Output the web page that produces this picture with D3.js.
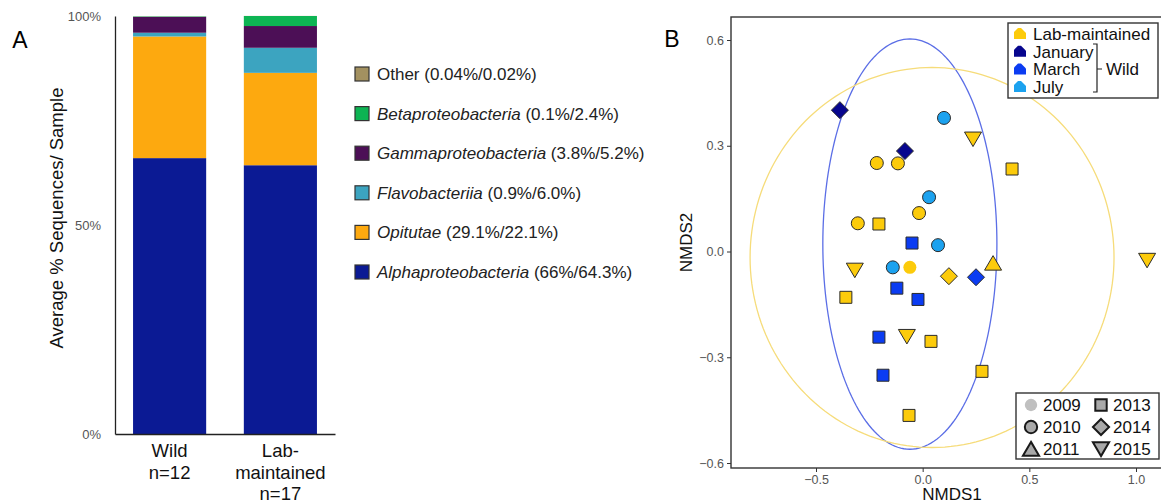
<!DOCTYPE html>
<html><head><meta charset="utf-8">
<script src="https://cdn.jsdelivr.net/npm/d3@7"></script>
<style>body{margin:0;background:#fff;}svg{display:block;font-family:"Liberation Sans",Arial,sans-serif;}</style>
</head><body>
<svg id="c" width="1161" height="504"></svg>
<script>
// ---------- Panel A data ----------
const groups = ["Wild", "Lab-maintained"];
const groupLabels = [["Wild", "n=12"], ["Lab-", "maintained", "n=17"]];
const taxa = ["Alphaproteobacteria", "Opitutae", "Flavobacteriia", "Gammaproteobacteria", "Betaproteobacteria", "Other"];
const wildPct = [66, 29.1, 0.9, 3.8, 0.1, 0.04];
const labPct = [64.3, 22.1, 6.0, 5.2, 2.4, 0.02];
const taxaLegend = ["(66%/64.3%)", "(29.1%/22.1%)", "(0.9%/6.0%)", "(3.8%/5.2%)", "(0.1%/2.4%)", "(0.04%/0.02%)"];
const taxaItalic = [true, true, true, true, true, false];
const taxaColors = ["#0b1a94", "#fda90f", "#3ca4c0", "#4c0f56", "#0db453", "#a39160"];
const yTicksA = [0, 50, 100];

// ---------- Panel B data ----------
const nmds1 = [-0.388, -0.083, 0.100, 0.236, -0.215, -0.116, 0.419, 0.030, -0.017, -0.304, -0.205, -0.050, 0.072, 0.330, -0.318, -0.140, -0.060, 0.123, 0.250, -0.121, -0.360, -0.022, -0.205, -0.074, 0.039, -0.186, 0.278, -0.064, 1.052];
const nmds2 = [0.401, 0.285, 0.379, 0.319, 0.251, 0.250, 0.234, 0.154, 0.109, 0.080, 0.078, 0.024, 0.018, -0.033, -0.053, -0.045, -0.045, -0.070, -0.073, -0.104, -0.130, -0.136, -0.243, -0.241, -0.255, -0.351, -0.340, -0.465, -0.025];
const source = ["January", "January", "July", "Lab-maintained", "Lab-maintained", "Lab-maintained", "Lab-maintained", "July", "Lab-maintained", "Lab-maintained", "Lab-maintained", "March", "July", "Lab-maintained", "Lab-maintained", "July", "Lab-maintained", "Lab-maintained", "March", "March", "Lab-maintained", "March", "March", "Lab-maintained", "Lab-maintained", "March", "Lab-maintained", "Lab-maintained", "Lab-maintained"];
const year = [2014, 2014, 2010, 2015, 2010, 2010, 2013, 2010, 2010, 2010, 2013, 2013, 2010, 2011, 2015, 2010, 2009, 2014, 2014, 2013, 2013, 2013, 2013, 2015, 2013, 2013, 2013, 2013, 2015];
const sourceNames = ["Lab-maintained", "January", "March", "July"];
const sourceColors = ["#fccb0b", "#07068e", "#0b3cf2", "#1ca2ef"];
const years = [2009, 2010, 2011, 2013, 2014, 2015];
const yearShapes = ["dot", "circle", "up", "square", "diamond", "down"];
const ellipseGroups = ["Wild", "Lab-maintained"];
const ellipseCx = [-0.060, 0.044];
const ellipseCy = [0.021, -0.017];
const ellipseRx = [0.408, 0.853];
const ellipseRy = [0.582, 0.539];
const ellipseColors = ["#5b6ee6", "#f6dc7a"];
const xTicksB = [-0.5, 0.0, 0.5, 1.0];
const yTicksB = [-0.6, -0.3, 0.0, 0.3, 0.6];

const svg = d3.select("#c");

// ================= Panel A =================
const gA = svg.append("g");
gA.append("text").attr("x", 20).attr("y", 40).attr("text-anchor", "middle").attr("dy", "0.35em")
  .attr("font-size", 23).text("A");

const yA = d3.scaleLinear().domain([0, 100]).range([434, 16]);
const xA = d3.scaleBand().domain(groups).range([115, 335]).paddingInner(0.34).paddingOuter(0.163);

const groupVals = [wildPct, labPct];
groups.forEach((g, gi) => {
  let cum = 0;
  taxa.forEach((t, ti) => {
    const v = groupVals[gi][ti];
    gA.append("rect")
      .attr("x", xA(g)).attr("width", xA.bandwidth())
      .attr("y", yA(cum + v)).attr("height", yA(cum) - yA(cum + v))
      .attr("fill", taxaColors[ti]);
    cum += v;
  });
});

// axes A
const axL = d3.axisLeft(yA).tickValues(yTicksA).tickSize(0).tickPadding(14).tickFormat(d => d + "%");
const gAxL = gA.append("g").attr("transform", "translate(115,0)").call(axL);
gAxL.select(".domain").attr("stroke", "#222").attr("stroke-width", 1.3);
gAxL.selectAll("text").attr("font-size", 13).attr("fill", "#555").attr("font-family", "Liberation Sans, Arial, sans-serif");
const axB = d3.axisBottom(xA).tickSize(0).tickFormat("");
const gAxB = gA.append("g").attr("transform", "translate(0,434)").call(axB);
gAxB.select(".domain").attr("stroke", "#222").attr("stroke-width", 1.3);

groups.forEach((g, gi) => {
  groupLabels[gi].forEach((line, li) => {
    gA.append("text").attr("x", xA(g) + xA.bandwidth() / 2).attr("y", 451 + li * 21.5)
      .attr("dy", "0.35em").attr("text-anchor", "middle").attr("font-size", 18.5).attr("fill", "#111").text(line);
  });
});

gA.append("text").attr("transform", "translate(57,218) rotate(-90)").attr("text-anchor", "middle")
  .attr("dy", "0.35em").attr("font-size", 18.5).attr("fill", "#111").text("Average % Sequences/ Sample");

// legend A (top = Other)
const legOrder = d3.range(taxa.length).reverse();
legOrder.forEach((ti, k) => {
  const cy = 74 + k * 39.6;
  gA.append("rect").attr("x", 355).attr("y", cy - 7).attr("width", 14).attr("height", 14)
    .attr("fill", taxaColors[ti]).attr("stroke", "#333").attr("stroke-width", 1.2);
  const t = gA.append("text").attr("x", 377).attr("y", cy).attr("dy", "0.35em").attr("font-size", 17).attr("fill", "#222");
  t.append("tspan").attr("font-style", taxaItalic[ti] ? "italic" : "normal").text(taxa[ti]);
  t.append("tspan").text(" " + taxaLegend[ti]);
});

// ================= Panel B =================
const gB = svg.append("g");
gB.append("text").attr("x", 672).attr("y", 39).attr("text-anchor", "middle").attr("dy", "0.35em")
  .attr("font-size", 23).text("B");

const xB = d3.scaleLinear().domain([-0.5, 1.0]).range([816, 1136]);
const yB = d3.scaleLinear().domain([-0.6, 0.6]).range([463, 40]);
const panel = { l: 731, t: 17, r: 1173, b: 468 };

// ellipses
ellipseGroups.forEach((g, i) => {
  const pts = d3.range(0, 361, 2).map(a => {
    const r = a * Math.PI / 180;
    return [xB(ellipseCx[i] + ellipseRx[i] * Math.cos(r)), yB(ellipseCy[i] + ellipseRy[i] * Math.sin(r))];
  });
  gB.append("path").attr("d", d3.line()(pts)).attr("fill", "none")
    .attr("stroke", ellipseColors[i]).attr("stroke-width", 1.3);
});

function shapePath(shape, s) {
  const p = d3.path();
  if (shape === "circle" || shape === "dot") {
    p.arc(0, 0, 6.5 * s, 0, 2 * Math.PI);
  } else if (shape === "square") {
    const h = 6 * s; p.rect(-h, -h, 2 * h, 2 * h);
  } else if (shape === "diamond") {
    const h = 8.5 * s; p.moveTo(0, -h); p.lineTo(h, 0); p.lineTo(0, h); p.lineTo(-h, 0); p.closePath();
  } else if (shape === "up") {
    p.moveTo(0, -7.5 * s); p.lineTo(8.5 * s, 7 * s); p.lineTo(-8.5 * s, 7 * s); p.closePath();
  } else if (shape === "down") {
    p.moveTo(0, 7.5 * s); p.lineTo(8.5 * s, -7 * s); p.lineTo(-8.5 * s, -7 * s); p.closePath();
  }
  return p.toString();
}

// points
nmds1.forEach((v, i) => {
  const shape = yearShapes[years.indexOf(year[i])];
  const col = sourceColors[sourceNames.indexOf(source[i])];
  gB.append("path").attr("transform", `translate(${xB(v)},${yB(nmds2[i])})`)
    .attr("d", shapePath(shape, 1)).attr("fill", col)
    .attr("stroke", shape === "dot" ? "none" : "#2b2b2b").attr("stroke-width", 1);
});

// panel border
gB.append("rect").attr("x", panel.l).attr("y", panel.t).attr("width", panel.r - panel.l).attr("height", panel.b - panel.t)
  .attr("fill", "none").attr("stroke", "#333").attr("stroke-width", 1.4);

// axes B
const axBX = d3.axisBottom(xB).tickValues(xTicksB).tickSize(4).tickPadding(3).tickFormat(d3.format(".1f"));
const gBX = gB.append("g").attr("transform", `translate(0,${panel.b})`).call(axBX);
gBX.select(".domain").remove();
gBX.selectAll("line").attr("stroke", "#333");
gBX.selectAll("text").attr("font-size", 12.5).attr("fill", "#555").attr("font-family", "Liberation Sans, Arial, sans-serif");
const axBY = d3.axisLeft(yB).tickValues(yTicksB).tickSize(4).tickPadding(3).tickFormat(d3.format(".1f"));
const gBY = gB.append("g").attr("transform", `translate(${panel.l},0)`).call(axBY);
gBY.select(".domain").remove();
gBY.selectAll("line").attr("stroke", "#333");
gBY.selectAll("text").attr("font-size", 12.5).attr("fill", "#555").attr("font-family", "Liberation Sans, Arial, sans-serif");

gB.append("text").attr("x", (panel.l + panel.r) / 2).attr("y", 494).attr("dy", "0.35em").attr("text-anchor", "middle")
  .attr("font-size", 17).attr("fill", "#111").text("NMDS1");
gB.append("text").attr("transform", `translate(686,${(panel.t + panel.b) / 2}) rotate(-90)`).attr("dy", "0.35em")
  .attr("text-anchor", "middle").attr("font-size", 17).attr("fill", "#111").text("NMDS2");

// legend B1 (source)
gB.append("rect").attr("x", 1008).attr("y", 23).attr("width", 150).attr("height", 75)
  .attr("fill", "#fff").attr("stroke", "#333").attr("stroke-width", 1.4);
const keyGlyph = "M-6,-2L-2,-6L1,-6L6,-1L6,5L-6,5Z";
sourceNames.forEach((s, i) => {
  const cy = 34 + i * 17.7;
  gB.append("path").attr("transform", `translate(1020,${cy})`).attr("d", keyGlyph).attr("fill", sourceColors[i]);
  gB.append("text").attr("x", 1033).attr("y", cy).attr("dy", "0.35em").attr("font-size", 17).attr("fill", "#111").text(s);
});
gB.append("path").attr("d", "M1093,44H1097V92H1093M1097,69H1102").attr("fill", "none").attr("stroke", "#222").attr("stroke-width", 1.2);
gB.append("text").attr("x", 1106).attr("y", 69).attr("dy", "0.35em").attr("font-size", 17).attr("fill", "#111").text("Wild");

// legend B2 (year)
gB.append("rect").attr("x", 1016).attr("y", 393).attr("width", 143).attr("height", 66)
  .attr("fill", "#fff").attr("stroke", "#333").attr("stroke-width", 1.4);
years.forEach((yr, i) => {
  const col = Math.floor(i / 3), row = i % 3;
  const cx = col === 0 ? 1031 : 1101, cy = 405 + row * 22;
  const shape = yearShapes[i];
  gB.append("path").attr("transform", `translate(${cx},${cy})`).attr("d", shapePath(shape, 0.95))
    .attr("fill", shape === "dot" ? "#c0c0c0" : "#a9a9a9")
    .attr("stroke", shape === "dot" ? "none" : "#1a1a1a").attr("stroke-width", 2);
  gB.append("text").attr("x", cx + 12).attr("y", cy).attr("dy", "0.35em").attr("font-size", 17).attr("fill", "#111").text(yr);
});
</script>
</body></html>
